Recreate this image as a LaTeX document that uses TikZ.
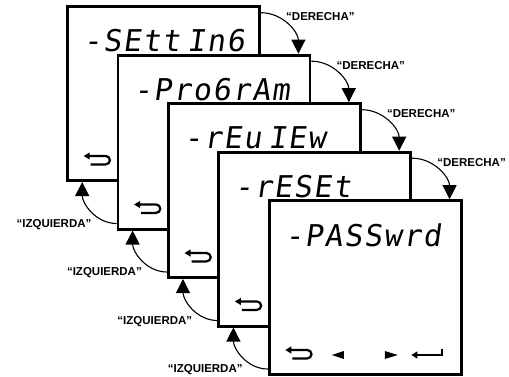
\documentclass[tikz,border=0pt]{standalone}
\usepackage{fontspec}
\setmainfont{Liberation Sans}
\newfontfamily\lcdfont{DejaVu Sans Mono}[FakeSlant=0.14,WordSpace=0.35,LetterSpace=5.5]
\usetikzlibrary{arrows.meta,positioning,calc}

\tikzset{
  screen/.style={draw, line width=2.8pt, fill=white, minimum width=192pt, minimum height=174pt, inner sep=0pt},
  lcd/.style={font=\lcdfont\fontsize{30}{30}\selectfont, inner sep=0pt},
  lbl/.style={font=\bfseries\fontsize{11.5}{13}\selectfont, inner sep=0pt},
  next/.style={-{Triangle[width=14pt,length=14pt]}, line width=1.1pt},
  backkey/.pic={
    \draw[line width=2.2pt] (4,0) -- (22,0) arc[start angle=90, end angle=-90, radius=4.2] -- (7,-8.4);
    \fill (0,0) -- (6,3.6) -- (6,-3.6) -- cycle;
  },
  enterkey/.pic={
    \draw[line width=2.2pt] (4,0) -- (31,0) -- (31,6);
    \fill (0,0) -- (6,3.6) -- (6,-3.6) -- cycle;
  }
}

\begin{document}
\begin{tikzpicture}[x=1pt, y=1pt]
\useasboundingbox (0,0) rectangle (509,376);

\node[screen, anchor=north west] (s1) at (66.2,370.8) {};
\node[lcd, below right=24pt and 17pt of s1.north west] (t1) {-SEtt In6};
\pic at ($(s1.south west)+(17.5,26)$) {backkey};

\node[screen, below right=48.5pt and 50.4pt of s1.north west] (s2) {};
\node[lcd, below right=24pt and 17pt of s2.north west] (t2) {-Pro6rAm};
\pic at ($(s2.south west)+(17.5,26)$) {backkey};

\node[screen, below right=48.5pt and 50.4pt of s2.north west] (s3) {};
\node[lcd, below right=24pt and 17pt of s3.north west] (t3) {-rEu IEw};
\pic at ($(s3.south west)+(17.5,26)$) {backkey};

\node[screen, below right=48.5pt and 50.4pt of s3.north west] (s4) {};
\node[lcd, below right=24pt and 17pt of s4.north west] (t4) {-rESEt};
\pic at ($(s4.south west)+(17.5,26)$) {backkey};

\node[screen, below right=48.5pt and 50.4pt of s4.north west] (s5) {};
\node[lcd, below right=24pt and 17pt of s5.north west] (t5) {-PASSwrd};
\pic at ($(s5.south west)+(17.5,26)$) {backkey};
\fill ($(s5.south west)+(64,21)$) -- ++(12,4) -- ++(0,-8) -- cycle;
\fill ($(s5.south west)+(130,21)$) -- ++(-13,4) -- ++(0,-8) -- cycle;
\pic at ($(s5.south west)+(143.5,21)$) {enterkey};

\coordinate (r1) at ($(s1.north east)+(0,-7.5)$);
\coordinate (r2) at ($(s2.north east)+(0,-7.5)$);
\coordinate (r3) at ($(s3.north east)+(0,-7.5)$);
\coordinate (r4) at ($(s4.north east)+(0,-7.5)$);
\draw[next] (r1) to[out=0, in=90] ($(s2.north east)+(-13,0)$);
\draw[next] (r2) to[out=0, in=90] ($(s3.north east)+(-13,0)$);
\draw[next] (r3) to[out=0, in=90] ($(s4.north east)+(-13,0)$);
\draw[next] (r4) to[out=0, in=90] ($(s5.north east)+(-13,0)$);
\node[lbl, right=25pt of r1, yshift=-4pt] (d1) {“DERECHA”};
\node[lbl, right=25pt of r2, yshift=-4pt] (d2) {“DERECHA”};
\node[lbl, right=25pt of r3, yshift=-4pt] (d3) {“DERECHA”};
\node[lbl, right=25pt of r4, yshift=-4pt] (d4) {“DERECHA”};

\coordinate (l1) at ($(s2.south west)+(0,7)$);
\coordinate (l2) at ($(s3.south west)+(0,7)$);
\coordinate (l3) at ($(s4.south west)+(0,7)$);
\coordinate (l4) at ($(s5.south west)+(0,7)$);
\draw[next] (l1) to[out=180, in=-90] ($(s1.south west)+(16,0)$);
\draw[next] (l2) to[out=180, in=-90] ($(s2.south west)+(16,0)$);
\draw[next] (l3) to[out=180, in=-90] ($(s3.south west)+(16,0)$);
\draw[next] (l4) to[out=180, in=-90] ($(s4.south west)+(16,0)$);
\node[lbl, left=25pt of l1, yshift=-1pt] (i1) {“IZQUIERDA”};
\node[lbl, left=25pt of l2, yshift=-1pt] (i2) {“IZQUIERDA”};
\node[lbl, left=25pt of l3, yshift=-1pt] (i3) {“IZQUIERDA”};
\node[lbl, left=25pt of l4, yshift=-1pt] (i4) {“IZQUIERDA”};
\end{tikzpicture}
\end{document}
